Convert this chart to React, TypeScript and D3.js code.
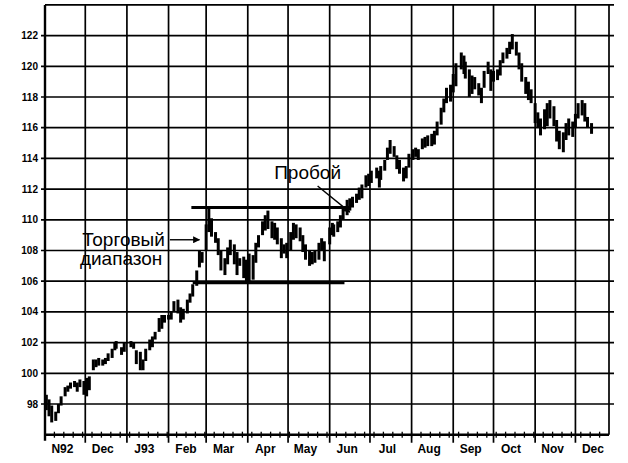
import React from "react";
import * as d3 from "d3";

const barDates = [
  "1992-11-02","1992-11-04","1992-11-06","1992-11-09","1992-11-11","1992-11-13","1992-11-16","1992-11-18","1992-11-20","1992-11-23","1992-11-25","1992-11-27","1992-11-30",
  "1992-12-02","1992-12-04","1992-12-07","1992-12-09","1992-12-11","1992-12-14","1992-12-16","1992-12-18","1992-12-21","1992-12-23","1992-12-24","1992-12-28","1992-12-30",
  "1993-01-04","1993-01-06","1993-01-08","1993-01-11","1993-01-13","1993-01-15","1993-01-18","1993-01-20","1993-01-22","1993-01-25","1993-01-27","1993-01-29",
  "1993-02-01","1993-02-03","1993-02-05","1993-02-08","1993-02-10","1993-02-12","1993-02-15","1993-02-17","1993-02-19","1993-02-22","1993-02-24","1993-02-26",
  "1993-03-01","1993-03-03","1993-03-05","1993-03-08","1993-03-10","1993-03-12","1993-03-15","1993-03-17","1993-03-19","1993-03-22","1993-03-24","1993-03-26","1993-03-29","1993-03-31",
  "1993-04-02","1993-04-05","1993-04-07","1993-04-09","1993-04-12","1993-04-14","1993-04-16","1993-04-19","1993-04-21","1993-04-23","1993-04-26","1993-04-28","1993-04-30",
  "1993-05-03","1993-05-05","1993-05-07","1993-05-10","1993-05-12","1993-05-14","1993-05-17","1993-05-19","1993-05-21","1993-05-24","1993-05-26","1993-05-28",
  "1993-06-01","1993-06-03","1993-06-04","1993-06-07","1993-06-09","1993-06-11","1993-06-14","1993-06-16","1993-06-18","1993-06-21","1993-06-23","1993-06-25","1993-06-28","1993-06-30",
  "1993-07-02","1993-07-06","1993-07-08","1993-07-09","1993-07-12","1993-07-14","1993-07-16","1993-07-19","1993-07-21","1993-07-23","1993-07-26","1993-07-28","1993-07-30",
  "1993-08-02","1993-08-04","1993-08-06","1993-08-09","1993-08-11","1993-08-13","1993-08-16","1993-08-18","1993-08-20","1993-08-23","1993-08-25","1993-08-27","1993-08-30",
  "1993-09-01","1993-09-03","1993-09-07","1993-09-09","1993-09-10","1993-09-13","1993-09-15","1993-09-17","1993-09-20","1993-09-22","1993-09-24","1993-09-27","1993-09-29",
  "1993-10-01","1993-10-04","1993-10-06","1993-10-08","1993-10-11","1993-10-13","1993-10-15","1993-10-18","1993-10-20","1993-10-22","1993-10-25","1993-10-27","1993-10-29",
  "1993-11-01","1993-11-03","1993-11-05","1993-11-08","1993-11-10","1993-11-12","1993-11-15","1993-11-17","1993-11-19","1993-11-22","1993-11-24","1993-11-26","1993-11-29",
  "1993-12-01","1993-12-03","1993-12-06","1993-12-08","1993-12-10","1993-12-13",
];

const barHighs = [
  98.6,98.3,97.9,97.5,98.0,98.5,99.1,99.2,99.4,99.5,99.4,99.6,99.5,
  99.7,99.8,100.9,100.9,101.0,100.9,101.0,101.3,101.6,102.0,102.1,101.7,102.0,
  102.1,102.0,101.5,101.4,100.9,101.6,102.2,102.4,102.7,103.6,103.8,103.8,
  103.8,104.0,104.7,104.8,104.3,104.2,104.8,105.2,105.8,106.7,108.0,107.9,
  109.7,110.8,110.1,109.2,108.8,108.0,107.5,108.2,108.7,108.4,107.9,107.5,107.6,107.4,
  107.8,107.7,108.5,109.0,109.9,110.3,110.6,109.9,109.8,109.5,108.8,108.4,108.5,
  109.2,109.8,109.7,109.5,109.0,108.4,108.0,107.9,108.0,108.5,108.8,108.6,
  109.5,109.8,109.7,109.9,110.3,110.8,111.3,111.4,111.5,111.7,112.1,112.3,112.9,113.0,
  113.2,113.4,113.2,113.5,113.9,114.7,115.2,114.8,114.2,113.9,113.4,113.5,114.3,
  114.6,114.7,114.6,115.3,115.4,115.5,115.6,115.8,116.4,117.3,117.9,118.6,118.8,
  119.5,120.2,120.9,120.7,120.3,119.8,119.4,119.3,118.9,118.6,119.7,120.3,119.8,
  119.7,119.8,120.4,120.9,121.2,121.6,122.1,121.6,120.9,120.2,119.3,119.0,118.5,
  117.6,117.0,116.6,117.2,117.6,117.8,117.4,116.5,115.8,115.7,116.3,116.6,116.4,
  116.9,117.6,117.8,117.6,116.7,116.3,
];

const barLows = [
  97.6,97.2,96.8,96.9,97.4,97.9,98.5,98.8,99.0,99.1,98.8,99.1,98.6,
  98.5,98.9,100.2,100.4,100.5,100.5,100.6,100.8,101.0,101.5,101.6,101.2,101.4,
  101.7,101.6,100.6,100.2,100.2,100.8,101.5,101.7,102.2,102.7,102.9,103.3,
  103.5,103.5,104.0,103.9,103.3,103.5,103.9,104.6,105.0,105.7,106.9,107.2,
  108.0,109.2,108.9,108.5,107.7,106.7,106.4,107.1,107.7,107.1,106.4,107.0,106.2,105.9,
  105.9,106.1,107.2,108.2,109.0,109.3,109.4,108.8,108.7,108.4,107.5,107.8,107.5,
  108.0,108.7,108.8,108.6,107.9,107.4,107.0,107.1,107.2,107.4,108.0,107.3,
  108.4,109.0,108.9,109.2,109.5,110.0,110.3,110.6,110.8,111.1,111.3,111.4,112.1,112.2,
  112.4,112.7,112.1,112.6,113.2,113.9,114.3,114.1,113.3,113.0,112.5,112.7,113.4,
  113.9,114.1,113.9,114.6,114.7,114.8,114.8,114.9,115.5,116.2,117.0,117.6,117.7,
  118.3,118.7,119.8,119.5,119.2,118.0,118.2,118.5,118.1,117.6,118.6,119.5,118.4,
  119.0,119.1,119.4,120.2,120.5,120.8,121.1,120.7,119.8,119.0,118.2,117.8,117.6,
  116.3,116.0,115.5,115.9,116.1,116.6,116.1,115.1,114.6,114.4,115.2,115.5,115.4,
  116.0,116.6,116.8,116.4,116.0,115.6,
];

const priceTicks = [98, 100, 102, 104, 106, 108, 110, 112, 114, 116, 118, 120, 122];

const monthStarts = [
  "1992-11-01","1992-12-01","1993-01-01","1993-02-01","1993-03-01","1993-04-01","1993-05-01",
  "1993-06-01","1993-07-01","1993-08-01","1993-09-01","1993-10-01","1993-11-01","1993-12-01",
];
const monthLabels = ["N92","Dec","J93","Feb","Mar","Apr","May","Jun","Jul","Aug","Sep","Oct","Nov","Dec"];

const xDomain = ["1992-11-01", "1993-12-26"];
const yDomain = [96, 124];

// trading range annotation
const rangeTopPrice = 110.8;
const rangeTopSpan = ["1993-02-18", "1993-06-16"];
const rangeBottomPrice = 105.9;
const rangeBottomSpan = ["1993-02-19", "1993-06-12"];

// arrows: [date, price] start -> end
const rangeArrow = [["1993-02-02", 108.7], ["1993-02-24", 108.7]];
const breakoutArrow = [["1993-05-23", 112.2], ["1993-06-16", 110.5]];

const rangeLabelLines = ["Торговый", "диапазон"];
const breakoutLabel = "Пробой";

export default function App() {
  const W = 628;
  const H = 463;
  const parse = d3.utcParse("%Y-%m-%d");
  const x = d3.scaleUtc().domain(xDomain.map((d) => parse(d) as Date)).range([45, 609]);
  const y = d3.scaleLinear().domain(yDomain).range([434.7, 4.9]);

  const left = x.range()[0];
  const right = x.range()[1];
  const bottom = y(yDomain[0]);
  const top = y(yDomain[1]);
  const gridRight = right + 5;

  const weeks = d3.utcSunday.range(parse(xDomain[0]) as Date, parse(xDomain[1]) as Date);
  const months = monthStarts.map((d) => parse(d) as Date);

  const bars = barDates.map((d, i) => ({ date: parse(d) as Date, hi: barHighs[i], lo: barLows[i] }));

  const axisFont = "'Liberation Sans', Arial, sans-serif";

  const ax = (p: (string | number)[]) => [x(parse(p[0] as string) as Date), y(p[1] as number)];
  const ra0 = ax(rangeArrow[0]);
  const ra1 = ax(rangeArrow[1]);
  const ba0 = ax(breakoutArrow[0]);
  const ba1 = ax(breakoutArrow[1]);

  return (
    <svg
      width={W}
      height={H}
      viewBox={`0 0 ${W} ${H}`}
      style={{ position: "absolute", left: 0, top: 0, background: "#fff" }}
    >
      <defs>
        <marker id="ah" viewBox="0 0 10 10" refX="9" refY="5" markerWidth="9" markerHeight="7" orient="auto" markerUnits="userSpaceOnUse">
          <path d="M0,0 L10,5 L0,10 z" fill="#000" />
        </marker>
      </defs>

      {/* horizontal grid */}
      {priceTicks.map((p) => (
        <line key={"h" + p} x1={left - 4} x2={gridRight} y1={y(p)} y2={y(p)} stroke="#000" strokeWidth={1.7} />
      ))}
      {/* top border */}
      <line x1={left} x2={gridRight} y1={top} y2={top} stroke="#000" strokeWidth={1.7} />

      {/* vertical grid at month starts */}
      {months.slice(1).map((m, i) => (
        <line key={"v" + i} x1={x(m)} x2={x(m)} y1={top} y2={bottom + 8} stroke="#000" strokeWidth={1.7} />
      ))}
      <line x1={right} x2={right} y1={top} y2={bottom} stroke="#000" strokeWidth={1.7} />

      {/* axes */}
      <line x1={left} x2={left} y1={top} y2={bottom + 6} stroke="#000" strokeWidth={2.4} />
      <line x1={left} x2={right} y1={bottom} y2={bottom} stroke="#000" strokeWidth={2.6} />
      {weeks.map((w, i) => (
        <line key={"w" + i} x1={x(w)} x2={x(w)} y1={bottom - 3} y2={bottom + 3} stroke="#000" strokeWidth={1.3} />
      ))}

      {/* y labels */}
      {priceTicks.map((p) => (
        <text
          key={"yl" + p}
          x={left - 7}
          y={y(p)}
          dy="0.35em"
          textAnchor="end"
          fontFamily={axisFont}
          fontWeight="bold"
          fontSize={10}
          fill="#000"
        >
          {p}
        </text>
      ))}

      {/* month labels */}
      {months.map((m, i) => (
        <text
          key={"ml" + i}
          x={x(d3.utcDay.offset(m, 13))}
          y={bottom + 18}
          textAnchor="middle"
          fontFamily={axisFont}
          fontWeight="bold"
          fontSize={12}
          fill="#000"
        >
          {monthLabels[i]}
        </text>
      ))}

      {/* price bars */}
      {bars.map((b, i) => (
        <line key={"b" + i} x1={x(b.date)} x2={x(b.date)} y1={y(b.hi)} y2={y(b.lo)} stroke="#000" strokeWidth={3} />
      ))}

      {/* trading range lines */}
      <line
        x1={x(parse(rangeTopSpan[0]) as Date)}
        x2={x(parse(rangeTopSpan[1]) as Date)}
        y1={y(rangeTopPrice)}
        y2={y(rangeTopPrice)}
        stroke="#000"
        strokeWidth={3.2}
      />
      <line
        x1={x(parse(rangeBottomSpan[0]) as Date)}
        x2={x(parse(rangeBottomSpan[1]) as Date)}
        y1={y(rangeBottomPrice)}
        y2={y(rangeBottomPrice)}
        stroke="#000"
        strokeWidth={3.2}
      />

      {/* annotations */}
      <line x1={ra0[0]} y1={ra0[1]} x2={ra1[0]} y2={ra1[1]} stroke="#000" strokeWidth={1.4} markerEnd="url(#ah)" />
      <line x1={ba0[0]} y1={ba0[1]} x2={ba1[0]} y2={ba1[1]} stroke="#000" strokeWidth={1.4} markerEnd="url(#ah)" />

      <text x={ra0[0] - 5} y={ra0[1] + 6} textAnchor="end" fontFamily={axisFont} fontSize={19} fill="#000">
        {rangeLabelLines[0]}
      </text>
      <text x={ra0[0] - 90} y={ra0[1] + 25} textAnchor="start" fontFamily={axisFont} fontSize={19} fill="#000">
        {rangeLabelLines[1]}
      </text>
      <text x={ba0[0] - 10} y={ba0[1] - 7} textAnchor="middle" fontFamily={axisFont} fontSize={19} fill="#000">
        {breakoutLabel}
      </text>
    </svg>
  );
}
